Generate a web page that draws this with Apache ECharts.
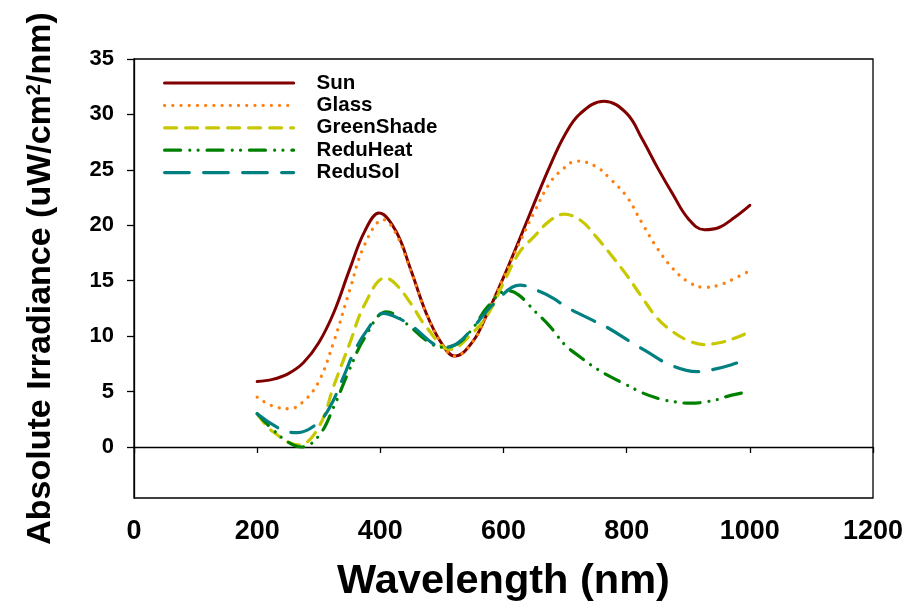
<!DOCTYPE html>
<html>
<head>
<meta charset="utf-8">
<script src="https://cdn.jsdelivr.net/npm/echarts@6/dist/echarts.min.js"></script>
<style>
html, body { margin: 0; padding: 0; background: #fff; }
#chart { width: 908px; height: 601px; }
</style>
</head>
<body>
<div id="chart"></div>
<script>
// wavelength (nm) / irradiance pairs, one pair of arrays per curve
var sunX = [200, 225, 250, 275, 300, 325, 350, 375, 398, 425, 450, 475, 500, 521, 550, 575, 600,
    625, 650, 675, 700, 725, 763, 800, 825, 850, 875, 900, 926, 950, 975, 1000];
var sunY = [5.9, 6.1, 6.6, 7.6, 9.4, 12.2, 16.0, 19.5, 21.1, 19.5, 15.9, 12.0, 9.3, 8.2, 9.5, 12.2, 15.3,
    18.6, 22.0, 25.3, 28.2, 30.1, 31.2, 30.1, 27.8, 25.2, 22.8, 20.6, 19.6, 19.8, 20.7, 21.8];

var glassX = [200, 225, 252, 275, 300, 325, 350, 375, 405, 425, 450, 475, 500, 521, 550, 575, 600,
    625, 650, 675, 695, 719, 750, 775, 800, 825, 850, 875, 900, 926, 950, 975, 1000];
var glassY = [4.5, 3.7, 3.45, 4.1, 5.9, 9.6, 14.1, 18.3, 20.5, 19.3, 15.8, 12.0, 9.3, 8.2, 9.5, 12.2, 15.3,
    18.3, 21.2, 23.8, 25.0, 25.8, 25.3, 24.1, 22.6, 20.2, 17.9, 16.1, 14.9, 14.4, 14.6, 15.2, 15.9];

var greenShadeX = [200, 225, 268, 300, 325, 350, 375, 408, 425, 450, 475, 513, 550, 575, 600,
    625, 650, 675, 698, 725, 750, 775, 800, 825, 850, 875, 900, 925, 950, 975, 1000];
var greenShadeY = [3.0, 1.4, 0.2, 1.8, 5.6, 9.3, 12.9, 15.25, 14.7, 12.9, 10.8, 8.8, 10.3, 12.0, 14.8,
    17.5, 19.0, 20.4, 21.0, 20.45, 19.0, 17.3, 15.5, 13.5, 11.6, 10.4, 9.6, 9.24, 9.4, 9.8, 10.4];

var reduHeatX = [200, 225, 250, 272, 300, 325, 350, 375, 410, 443, 475, 500, 525, 550, 575, 607,
    625, 650, 675, 700, 725, 750, 775, 800, 825, 850, 875, 903, 941, 969, 1000];
var reduHeatY = [3.0, 1.6, 0.45, 0.0, 1.0, 3.7, 7.0, 9.9, 12.2, 11.1, 9.6, 9.0, 9.3, 10.7, 12.7, 14.1,
    13.7, 12.3, 10.9, 9.2, 8.1, 7.1, 6.3, 5.6, 4.9, 4.4, 4.1, 3.95, 4.2, 4.66, 5.0];

var reduSolX = [200, 242, 265, 297, 318, 340, 356, 378, 405, 430, 454, 486, 502, 524, 551, 584, 627,
    660, 681, 703, 746, 768, 806, 833, 871, 914, 941, 969, 1000];
var reduSolY = [3.0, 1.5, 1.3, 2.1, 3.6, 6.3, 8.4, 10.5, 12.05, 11.6, 10.8, 9.3, 9.0, 9.3, 10.8, 12.9, 14.6,
    14.0, 13.4, 12.6, 11.4, 10.8, 9.5, 8.6, 7.4, 6.8, 7.0, 7.4, 8.0];

var yTicks = [0, 5, 10, 15, 20, 25, 30, 35];

var font = '"Liberation Sans", Arial, sans-serif';

function pairs(xs, ys) {
    return xs.map(function (x, i) {
        return [x, ys[i]];
    });
}

function makeSeries(name, xs, ys, color, dash, width) {
    return {
        name: name,
        type: 'line',
        data: pairs(xs, ys),
        smooth: 0.4,
        symbol: 'none',
        lineStyle: {
            color: color,
            width: width,
            type: dash,
            cap: 'round'
        },
        itemStyle: { color: color }
    };
}

var myChart = echarts.init(document.getElementById('chart'));

var option = {
    backgroundColor: '#fff',
    animation: false,
    grid: {
        left: 134,
        right: 35,
        top: 59,
        bottom: 103,
        outerBoundsMode: 'none',
        containLabel: false,
        show: true,
        borderColor: '#000',
        borderWidth: 1.3
    },
    legend: {
        orient: 'vertical',
        left: 158,
        top: 67.5,
        itemWidth: 129,
        itemHeight: 14,
        itemGap: 1.4,
        itemStyle: { opacity: 0 },
        lineStyle: { width: 3.2, cap: 'round' },
        textStyle: {
            fontFamily: font,
            fontWeight: 'bold',
            fontSize: 20.5,
            lineHeight: 16,
            color: '#000',
            padding: [0, 0, 0, 18]
        },
        data: ['Sun', 'Glass', 'GreenShade', 'ReduHeat', 'ReduSol']
    },
    xAxis: {
        type: 'value',
        min: 0,
        max: 1200,
        interval: 200,
        name: 'Wavelength (nm)',
        nameLocation: 'middle',
        nameGap: 63,
        nameTextStyle: {
            fontFamily: font,
            fontWeight: 'bold',
            fontSize: 41.5,
            color: '#000'
        },
        axisLine: { lineStyle: { color: '#000', width: 1.3 } },
        axisTick: { show: true, length: 6, lineStyle: { color: '#000', width: 1.3 } },
        axisLabel: {
            margin: 20,
            fontFamily: font,
            fontWeight: 'bold',
            fontSize: 27,
            color: '#000',
            formatter: function (v) { return String(v); }
        },
        splitLine: { show: false }
    },
    yAxis: {
        type: 'value',
        min: -4.6,
        max: 35,
        name: 'Absolute Irradiance (uW/cm{sup|2}/nm)',
        nameLocation: 'middle',
        nameRotate: 90,
        nameGap: 76,
        nameTextStyle: {
            fontFamily: font,
            fontWeight: 'bold',
            fontSize: 34,
            color: '#000',
            rich: {
                sup: {
                    fontFamily: font,
                    fontWeight: 'bold',
                    fontSize: 20,
                    verticalAlign: 'top',
                    color: '#000'
                }
            }
        },
        axisLine: { show: true, lineStyle: { color: '#000', width: 1.3 } },
        axisTick: { show: true, length: 7, customValues: yTicks, lineStyle: { color: '#000', width: 1.3 } },
        axisLabel: {
            margin: 20,
            customValues: yTicks,
            fontFamily: font,
            fontWeight: 'bold',
            fontSize: 22,
            color: '#000'
        },
        splitLine: { show: false }
    },
    series: [
        makeSeries('Sun', sunX, sunY, '#800000', 'solid', 3),
        makeSeries('Glass', glassX, glassY, '#ff8010', [0.01, 8.2], 3.3),
        makeSeries('GreenShade', greenShadeX, greenShadeY, '#c8c800', [12, 9], 3.2),
        makeSeries('ReduHeat', reduHeatX, reduHeatY, '#008000', [16, 9.2, 0.01, 8.3, 0.01, 8.9], 3.2),
        makeSeries('ReduSol', reduSolX, reduSolY, '#008080', [24.7, 14.3], 3.2)
    ]
};

myChart.setOption(option);
</script>
</body>
</html>
